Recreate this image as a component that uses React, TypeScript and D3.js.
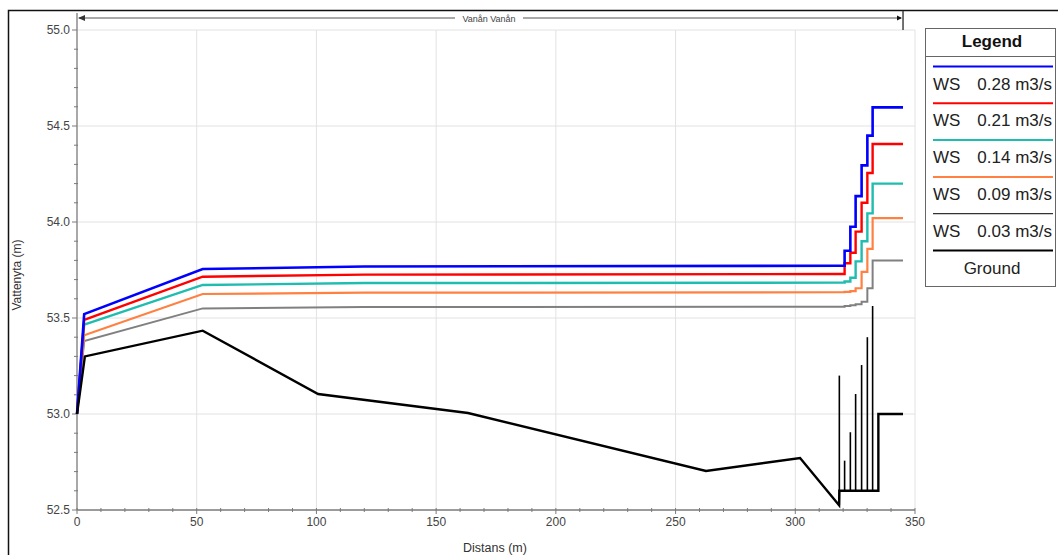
import { useRef, useEffect } from "react";
import * as d3 from "d3";

// Vattenytor (m) vid varje station, fem flöden
const wsStationer = [0, 3, 52.5, 120, 318.4, 320.6, 323.0, 325.2, 327.7, 330.1, 332.3, 345];
const stegFranIndex = 5; // från denna station hoppar ytan trappstegsvis

const ws028 = [53.0, 53.52, 53.755, 53.768, 53.772, 53.85, 53.975, 54.135, 54.295, 54.45, 54.597, 54.597];
const ws021 = [53.0, 53.49, 53.715, 53.726, 53.729, 53.785, 53.84, 53.95, 54.1, 54.255, 54.406, 54.406];
const ws014 = [53.0, 53.465, 53.672, 53.682, 53.684, 53.69, 53.71, 53.795, 53.9, 54.045, 54.2, 54.2];
const ws009 = [53.0, 53.41, 53.625, 53.632, 53.634, 53.636, 53.64, 53.655, 53.74, 53.86, 54.02, 54.02];
const ws003 = [53.0, 53.38, 53.55, 53.557, 53.559, 53.562, 53.566, 53.572, 53.585, 53.655, 53.8, 53.8];

const flodesEtiketter = ["WS  0.28 m3/s", "WS  0.21 m3/s", "WS  0.14 m3/s", "WS  0.09 m3/s", "WS  0.03 m3/s"];
const flodesFarger = ["#0000ff", "#ff0000", "#1fbcb0", "#ff8040", "#808080"];

// Botten (Ground)
const markX = [0, 3.3, 52.5, 100.7, 163.3, 262.7, 302, 318.3, 318.4, 334.7, 334.7, 345];
const markY = [53.0, 53.3, 53.434, 53.104, 53.005, 52.703, 52.771, 52.525, 52.6, 52.6, 53.0, 53.0];
const spetsX = [318.4, 320.6, 323.0, 325.2, 327.7, 330.1, 332.3];
const spetsTopp = [53.2, 52.757, 52.905, 53.104, 53.255, 53.4, 53.5625];
const spetsBas = 52.6;

const xTicks = [0, 50, 100, 150, 200, 250, 300, 350];
const yTicks = [52.5, 53.0, 53.5, 54.0, 54.5, 55.0];

const FONT = "'Liberation Sans', Arial, sans-serif";

export default function App() {
  const svgRef = useRef<SVGSVGElement>(null);

  useEffect(() => {
    const svg = d3.select(svgRef.current);
    svg.selectAll("*").remove();

    const x = d3.scaleLinear().domain([0, 350]).range([77, 915]);
    const y = d3.scaleLinear().domain([52.5, 55.0]).range([510, 30]);

    // ram
    svg.append("rect")
      .attr("x", 8.5).attr("y", 10.5)
      .attr("width", 1100).attr("height", 600)
      .attr("fill", "#fff").attr("stroke", "#111").attr("stroke-width", 1.5);

    // rutnät
    const grid = svg.append("g").attr("stroke", "#e2e2e2").attr("stroke-width", 1);
    xTicks.slice(1).forEach(t => {
      grid.append("line").attr("x1", x(t)).attr("x2", x(t)).attr("y1", y(55)).attr("y2", y(52.5));
    });
    yTicks.slice(1).forEach(t => {
      grid.append("line").attr("x1", x(0)).attr("x2", x(350)).attr("y1", y(t)).attr("y2", y(t));
    });

    // axlar
    const axis = svg.append("g").attr("stroke", "#7a7a7a").attr("stroke-width", 1.3);
    axis.append("line").attr("x1", x(0)).attr("x2", x(0)).attr("y1", 13).attr("y2", y(52.5));
    axis.append("line").attr("x1", x(0)).attr("x2", x(350)).attr("y1", y(52.5)).attr("y2", y(52.5));

    d3.range(52.5, 55.0001, 0.1).forEach(t => {
      const major = Math.abs(t * 2 - Math.round(t * 2)) < 1e-6;
      axis.append("line")
        .attr("x1", x(0) - (major ? 5 : 3)).attr("x2", x(0) + (major ? 0 : 1))
        .attr("y1", y(t)).attr("y2", y(t)).attr("stroke-width", 1);
    });
    d3.range(0, 350.001, 10).forEach(t => {
      const major = t % 50 === 0;
      axis.append("line")
        .attr("x1", x(t)).attr("x2", x(t))
        .attr("y1", y(52.5) - 2).attr("y2", y(52.5) + (major ? 4 : 2)).attr("stroke-width", 1);
    });

    svg.append("g").selectAll("text").data(yTicks).enter().append("text")
      .attr("x", 70).attr("y", d => y(d) + 4)
      .attr("text-anchor", "end")
      .attr("font-family", FONT).attr("font-size", 12).attr("fill", "#444")
      .text(d => d.toFixed(1));

    svg.append("g").selectAll("text").data(xTicks).enter().append("text")
      .attr("x", d => x(d)).attr("y", 526)
      .attr("text-anchor", "middle")
      .attr("font-family", FONT).attr("font-size", 12).attr("fill", "#444")
      .text(d => String(d));

    svg.append("text")
      .attr("x", 495).attr("y", 552)
      .attr("text-anchor", "middle")
      .attr("font-family", FONT).attr("font-size", 12.5).attr("fill", "#333")
      .text("Distans (m)");

    svg.append("text")
      .attr("transform", "translate(21,275) rotate(-90)")
      .attr("text-anchor", "middle")
      .attr("font-family", FONT).attr("font-size", 12).attr("fill", "#333")
      .text("Vattenyta (m)");

    // sträckning överst
    const topY = 18;
    const top = svg.append("g");
    top.append("line").attr("x1", x(345)).attr("x2", x(345)).attr("y1", 11).attr("y2", 30)
      .attr("stroke", "#444").attr("stroke-width", 1.5);
    top.append("line").attr("x1", x(0) + 2).attr("x2", x(345) - 2).attr("y1", topY).attr("y2", topY)
      .attr("stroke", "#555").attr("stroke-width", 1.2);
    top.append("path")
      .attr("d", `M${x(0) + 1},${topY} l7,-3 v6 z`).attr("fill", "#333");
    top.append("path")
      .attr("d", `M${x(345) - 1},${topY} l-5,-2.5 v5 z`).attr("fill", "#111");
    top.append("rect").attr("x", 455).attr("y", 12).attr("width", 68).attr("height", 12).attr("fill", "#fff");
    top.append("text")
      .attr("x", 489).attr("y", 21.5).attr("text-anchor", "middle")
      .attr("font-family", FONT).attr("font-size", 9).attr("fill", "#444")
      .text("Vanån Vanån");

    // vattenytor
    const line = d3.line<[number, number]>()
      .x(d => x(d[0]))
      .y(d => y(d[1]));

    const serier = [ws028, ws021, ws014, ws009, ws003];
    const bredder = [2.6, 2.4, 2.4, 2.2, 2];
    serier.slice().reverse().forEach((vals, ri) => {
      const i = serier.length - 1 - ri;
      const pts: [number, number][] = [];
      wsStationer.forEach((sx, k) => {
        if (k >= stegFranIndex) pts.push([sx, vals[k - 1]]);
        pts.push([sx, vals[k]]);
      });
      svg.append("path")
        .datum(pts)
        .attr("fill", "none")
        .attr("stroke", flodesFarger[i])
        .attr("stroke-width", bredder[i])
        .attr("stroke-linejoin", "miter")
        .attr("d", line);
    });

    // botten
    const markPts = markX.map((mx, k) => [mx, markY[k]] as [number, number]);
    svg.append("path")
      .datum(markPts)
      .attr("fill", "none")
      .attr("stroke", "#000")
      .attr("stroke-width", 2.4)
      .attr("d", line);

    spetsX.forEach((sx, k) => {
      svg.append("line")
        .attr("x1", x(sx)).attr("x2", x(sx))
        .attr("y1", y(k === 0 ? markY[7] : spetsBas)).attr("y2", y(spetsTopp[k]))
        .attr("stroke", "#000").attr("stroke-width", 1.6);
    });

    // legend
    const lg = svg.append("g").attr("transform", "translate(925,28)");
    lg.append("rect").attr("x", 0.5).attr("y", 0.5).attr("width", 130).attr("height", 258)
      .attr("fill", "#fff").attr("stroke", "#666").attr("stroke-width", 1);
    lg.append("text")
      .attr("x", 67).attr("y", 19).attr("text-anchor", "middle")
      .attr("font-family", FONT).attr("font-size", 17).attr("font-weight", "bold").attr("fill", "#111")
      .text("Legend");
    lg.append("line").attr("x1", 0).attr("x2", 131).attr("y1", 28.5).attr("y2", 28.5)
      .attr("stroke", "#666").attr("stroke-width", 1);

    const rader = [...flodesEtiketter, "Ground"];
    const radFarger = [...flodesFarger.slice(0, 4), "#333", "#000"];
    rader.forEach((r, i) => {
      const ly = 38.5 + i * 36.8;
      lg.append("line")
        .attr("x1", 8).attr("x2", 128).attr("y1", ly).attr("y2", ly)
        .attr("stroke", radFarger[i]).attr("stroke-width", i === 4 ? 1.2 : 2);
      if (r === "Ground") {
        lg.append("text")
          .attr("x", 67).attr("y", ly + 23).attr("text-anchor", "middle")
          .attr("font-family", FONT).attr("font-size", 17).attr("fill", "#222")
          .text(r);
      } else {
        const [ws, ...rest] = r.split(/\s+/);
        lg.append("text")
          .attr("x", 8).attr("y", ly + 23)
          .attr("font-family", FONT).attr("font-size", 17).attr("fill", "#222")
          .text(ws);
        lg.append("text")
          .attr("x", 127).attr("y", ly + 23).attr("text-anchor", "end")
          .attr("font-family", FONT).attr("font-size", 17).attr("fill", "#222")
          .text(rest.join(" "));
      }
    });
  }, []);

  return (
    <div style={{ position: "absolute", left: 0, top: 0, width: 1058, height: 555, overflow: "hidden", background: "#fff" }}>
      <svg ref={svgRef} width={1058} height={555} style={{ display: "block" }} />
    </div>
  );
}
